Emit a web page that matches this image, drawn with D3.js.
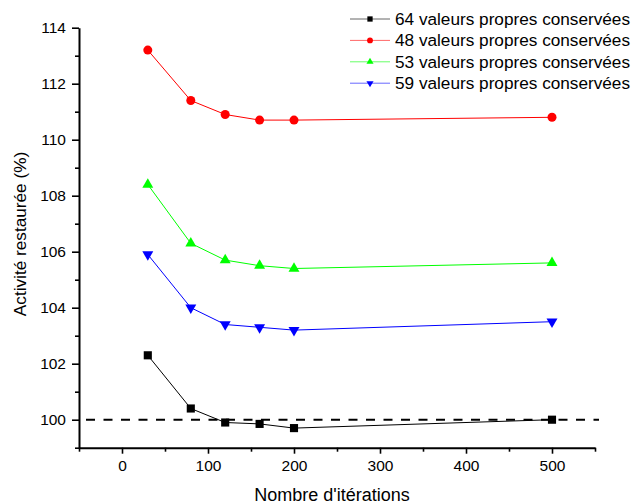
<!DOCTYPE html>
<html><head><meta charset="utf-8">
<script src="https://cdn.jsdelivr.net/npm/d3@7"></script>
<style>body{margin:0;background:#fff} text{font-family:"Liberation Sans",Arial,sans-serif;fill:#000}</style>
</head><body><svg id="c" width="635" height="504"></svg>
<script>
const iterations = [30, 80, 120, 160, 200, 500];
const seriesNames = ["64 valeurs propres conservées", "48 valeurs propres conservées", "53 valeurs propres conservées", "59 valeurs propres conservées"];
const v64 = [102.3, 100.4, 99.9, 99.85, 99.7, 100.0];
const v48 = [113.2, 111.4, 110.9, 110.7, 110.7, 110.8];
const v53 = [108.4, 106.3, 105.7, 105.5, 105.4, 105.6];
const v59 = [105.9, 104.0, 103.4, 103.3, 103.2, 103.5];
const seriesColors = ["#000000", "#ff0000", "#00ff00", "#0000ff"];
const seriesShapes = ["square", "circle", "triangleUp", "triangleDown"];
const xTicks = [0, 100, 200, 300, 400, 500];
const xMinorTicks = [-50, 50, 150, 250, 350, 450, 550];
const yTicks = [100, 102, 104, 106, 108, 110, 112, 114];
const yMinorTicks = [99, 101, 103, 105, 107, 109, 111, 113];
const referenceLevel = 100;
const xTitle = "Nombre d'itérations";
const yTitle = "Activité restaurée (%)";

const seriesValues = [v64, v48, v53, v59];
const svg = d3.select("#c");
const x = d3.scaleLinear().domain([-50, 550]).range([79, 595]);
const y = d3.scaleLinear().domain([99, 114]).range([447.7, 27.7]);

function symbolPath(shape, scale) {
  const s = scale || 1;
  if (shape === "square") return d3.symbol(d3.symbolSquare, 66 * s * s)();
  if (shape === "circle") return d3.symbol(d3.symbolCircle, 64 * s * s)();
  return d3.symbol(d3.symbolTriangle, 52 * s * s)();
}
function drawSymbol(g, shape, color, cx, cy, scale) {
  g.append("path")
    .attr("d", symbolPath(shape, scale))
    .attr("transform", `translate(${cx},${cy})` + (shape === "triangleDown" ? " rotate(180)" : ""))
    .attr("fill", color);
}

// Axes
const xAxis = svg.append("g").attr("transform", `translate(0,${y(99)})`)
  .call(d3.axisBottom(x).tickValues(xTicks).tickSize(6).tickSizeOuter(0).tickPadding(6));
const xMinor = svg.append("g").attr("transform", `translate(0,${y(99)})`)
  .call(d3.axisBottom(x).tickValues(xMinorTicks).tickSize(4).tickSizeOuter(0).tickFormat(""));
xMinor.select(".domain").remove();
const yAxis = svg.append("g").attr("transform", `translate(${x(-50)},0)`)
  .call(d3.axisLeft(y).tickValues(yTicks).tickSize(7).tickSizeOuter(0).tickPadding(6));
const yMinor = svg.append("g").attr("transform", `translate(${x(-50)},0)`)
  .call(d3.axisLeft(y).tickValues(yMinorTicks).tickSize(4).tickSizeOuter(0).tickFormat(""));
yMinor.select(".domain").remove();
svg.selectAll(".domain").attr("stroke-width", 2).attr("stroke", "#000");
svg.selectAll(".tick line").attr("stroke-width", 1.6).attr("stroke", "#000");
svg.selectAll(".tick text").attr("font-size", 15.5).attr("font-family", '"Liberation Sans",Arial,sans-serif').attr("fill", "#000");

// Reference dashed line
svg.append("line")
  .attr("x1", x(-50) + 7).attr("x2", 599)
  .attr("y1", y(referenceLevel)).attr("y2", y(referenceLevel))
  .attr("stroke", "#000").attr("stroke-width", 2).attr("stroke-dasharray", "9,8.5");

// Series
const line = d3.line().x((d, i) => x(iterations[i])).y(d => y(d));
seriesValues.forEach((vals, k) => {
  const g = svg.append("g");
  g.append("path").attr("d", line(vals)).attr("fill", "none")
    .attr("stroke", seriesColors[k]).attr("stroke-width", 1);
  vals.forEach((v, i) => drawSymbol(g, seriesShapes[k], seriesColors[k], x(iterations[i]), y(v), 1));
});

// Legend
const leg = svg.append("g");
seriesNames.forEach((name, k) => {
  const cy = 19 + k * 21.4;
  leg.append("line").attr("x1", 350).attr("x2", 390).attr("y1", cy).attr("y2", cy)
    .attr("stroke", seriesColors[k]).attr("stroke-width", 1).attr("stroke-opacity", 0.6);
  drawSymbol(leg, seriesShapes[k], seriesColors[k], 370, cy, 0.65);
  leg.append("text").attr("x", 395).attr("y", cy + 6).attr("font-size", 17.2).text(name);
});

// Titles
svg.append("text").attr("x", 332).attr("y", 501).attr("text-anchor", "middle")
  .attr("font-size", 18).text(xTitle);
svg.append("text").attr("transform", `translate(25.5,234) rotate(-90)`).attr("text-anchor", "middle")
  .attr("font-size", 17.2).text(yTitle);
</script></body></html>
